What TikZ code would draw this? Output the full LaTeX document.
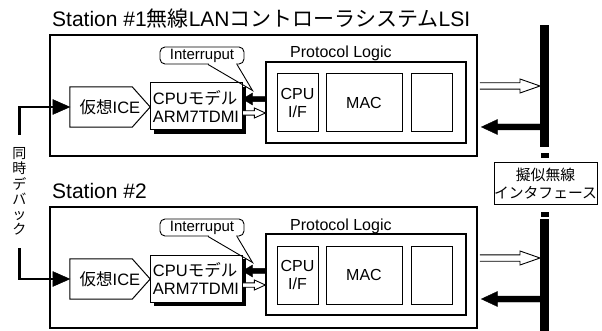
\documentclass[tikz,border=0pt]{standalone}
\usepackage{fontspec}
\setmainfont{Liberation Sans}
\newfontfamily\jp{Noto Sans CJK JP}
\usetikzlibrary{calc,shadows}

% Japanese run inside Latin text
\newcommand\J[1]{{\jp #1}}

% Horizontal block arrow drawn as a polygon:
% #1 style, #2 start, #3 tip, #4 head length, #5 shaft half width, #6 head half width
\newcommand\blockarrow[6]{%
  \coordinate (ba-a) at (#2);
  \coordinate (ba-b) at (#3);
  \coordinate (ba-c) at ($(ba-b)!#4!(ba-a)$);
  \draw[#1] ($(ba-a)!#5!90:(ba-b)$) -- ($(ba-c)!#5!90:(ba-b)$)
    -- ($(ba-c)!#6!90:(ba-b)$) -- (ba-b) -- ($(ba-c)!#6!-90:(ba-b)$)
    -- ($(ba-c)!#5!-90:(ba-b)$) -- ($(ba-a)!#5!-90:(ba-b)$);
}

% One station: #1 suffix, #2 vertical offset, #3 title, #4 bus segment
\newcommand\stationunit[4]{%
  \begin{scope}[yshift=-#2pt]
    \node[anchor=base west, inner sep=0pt, font=\fontsize{21}{24}\selectfont] (title#1) at (52,27) {#3};
    \node[draw, line width=2.8pt, inner sep=0pt, minimum width=427pt, minimum height=121pt] (st#1) at (263.5,95.5) {};
    \node[anchor=base west, inner sep=0pt, txt] (plabel#1) at (290,58) {Protocol Logic};
    \node[draw, line width=1.2pt, inner sep=0pt, minimum width=200pt, minimum height=81pt] (pl#1) at (366,102.5) {};
    \node[box, minimum width=41pt, minimum height=58pt, align=center, txt] (cif#1) at (297.5,103) {CPU\\I/F};
    \node[box, minimum width=76pt, minimum height=58pt, txt] (mac#1) at (364,103) {MAC};
    \node[box, minimum width=41pt, minimum height=58pt] (blk#1) at (431.5,103) {};
    \node[box, fill=white, minimum width=92pt, minimum height=47pt, align=left, inner xsep=2.5pt,
          font=\fontsize{16.5}{18}\selectfont,
          drop shadow={fill=black, opacity=1, shadow xshift=4pt, shadow yshift=-4pt}]
          (cpu#1) at (196,106.5) {CPU\J{モデル}\\ARM7TDMI};
    \node[inner sep=0pt, minimum width=80pt, minimum height=40pt, font=\fontsize{16.5}{18}\selectfont]
          (ice#1) at (110,107) {\J{仮想}ICE};
    \node[draw, line width=0.9pt, rounded corners=5pt, fill=white, inner sep=0pt,
          minimum width=84pt, minimum height=17pt, font=\fontsize{15}{17}\selectfont]
          (intr#1) at (202,55.5) {Interruput};
  \end{scope}
  % pentagon of the ICE block
  \draw[line width=1pt] (ice#1.north west) -- ([xshift=-18pt]ice#1.north east) -- (ice#1.east)
    -- ([xshift=-18pt]ice#1.south east) -- (ice#1.south west) -- cycle;
  % CPU I/F -> CPU model (interrupt) and CPU model -> CPU I/F
  \blockarrow{fill=black}{[yshift=3.5pt]pl#1.west}{cpu#1.east |- ba-a}{10pt}{2.7pt}{6pt}
  \blockarrow{draw, fill=white, line width=0.9pt}{[xshift=0.5pt,yshift=-6.5pt]cpu#1.east}{pl#1.west |- ba-a}{11pt}{2.2pt}{5pt}
  % station <-> radio bus
  \blockarrow{draw, fill=white, line width=0.9pt}{[xshift=1.4pt,yshift=9.5pt]st#1.east}{#4.west |- ba-a}{20pt}{3.2pt}{7pt}
  \path ([xshift=3pt,yshift=-31.5pt]st#1.east) coordinate (rt#1);
  \blockarrow{fill=black}{#4.west |- rt#1}{rt#1}{16pt}{3pt}{7.5pt}
  % callout pointer
  \coordinate (tp#1) at ([xshift=10pt,yshift=-8pt]cpu#1.north east);
  \fill[white] ([xshift=6.6pt,yshift=1.2pt]intr#1.south) rectangle ([xshift=34.4pt,yshift=-1.2pt]intr#1.south);
  \draw[line width=0.9pt] ([xshift=6pt]intr#1.south) -- (tp#1) -- ([xshift=35pt]intr#1.south);
}

\begin{document}
\begin{tikzpicture}[x=1pt, y=-1pt,
  box/.style={draw, line width=1pt, inner sep=0pt},
  txt/.style={font=\fontsize{16}{18}\selectfont},
  busbar/.style={fill=black, draw=none, inner sep=0pt, outer sep=0pt, minimum width=9pt},
  busdot/.style={fill=black, draw=none, inner sep=0pt, outer sep=0pt, minimum width=8pt, minimum height=5pt}]
\useasboundingbox (0,0) rectangle (602,331);

% radio medium
\node[busbar, minimum height=122pt] (bus1) at (544.5,86) {};
\node[busbar, minimum height=112pt] (bus2) at (544.5,275) {};
\node[busdot] (dot1) at (544.5,156) {};
\node[busdot] (dot2) at (544.5,214) {};
\node[box, fill=white, minimum width=103pt, minimum height=42pt, align=center,
      font=\jp\fontsize{14.8}{18}\selectfont] (radio) at (545.5,184) {擬似無線\\インタフェース};

\stationunit{1}{0}{Station \#1\J{無線}LAN\J{コントローラシステム}LSI}{bus1}
\stationunit{2}{172}{Station \#2}{bus2}

% simultaneous debug lines
\node[inner sep=0pt, minimum height=113pt, align=center, font=\jp\fontsize{14}{15.2}\selectfont]
  (dbg) at (19.5,191.5) {同\\時\\デ\\バ\\ッ\\ク};
\draw[line width=2.8pt] (dbg.north) |- ([xshift=-16pt]ice1.west);
\blockarrow{fill=black}{[xshift=-17pt]ice1.west}{ice1.west}{17pt}{1.4pt}{7.5pt}
\draw[line width=2.8pt] (dbg.south) |- ([xshift=-16pt]ice2.west);
\blockarrow{fill=black}{[xshift=-17pt]ice2.west}{ice2.west}{17pt}{1.4pt}{7.5pt}
\end{tikzpicture}
\end{document}
